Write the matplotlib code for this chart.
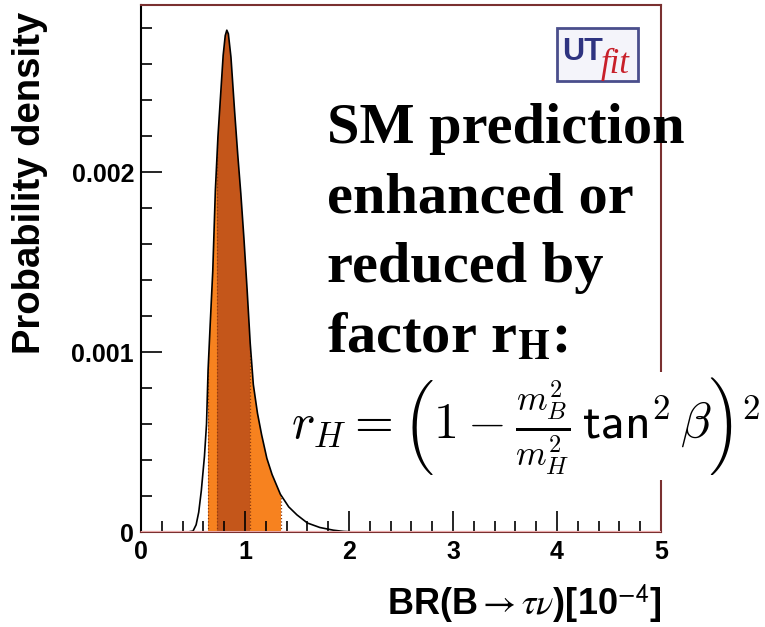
import numpy as np
import matplotlib
matplotlib.use("Agg")
import matplotlib.pyplot as plt
from matplotlib.patches import FancyBboxPatch

# BR(B->tau nu) posterior: x in 1e-4, y = probability density
br_x = [0.45, 0.50, 0.53, 0.555, 0.58, 0.61, 0.63, 0.645, 0.665, 0.69, 0.715,
        0.74, 0.76, 0.79, 0.81, 0.825, 0.84, 0.865, 0.90, 0.93, 0.96, 0.99,
        1.02, 1.05, 1.08, 1.12, 1.16, 1.21, 1.26, 1.34, 1.42, 1.50, 1.60,
        1.72, 1.85, 1.95, 2.05]
br_pdf = [0.0, 0.000005, 0.00004, 0.00011, 0.00023, 0.00042, 0.00060, 0.00090,
          0.00115, 0.00145, 0.00190, 0.00220, 0.00238, 0.00265, 0.00276, 0.00279,
          0.00277, 0.00264, 0.00234, 0.00210, 0.00188, 0.00163, 0.00135, 0.00105,
          0.00082, 0.00066, 0.00054, 0.00041, 0.00032, 0.00021, 0.00014, 0.000095,
          0.00005, 0.000025, 0.00001, 0.000003, 0.0]

# credible intervals (68% dark, 95% light)
band95 = (0.64, 1.345)
band68 = (0.734, 1.048)

xticks = [0, 1, 2, 3, 4, 5]
yticks = [0, 0.001, 0.002]
ytick_labels = ["0", "0.001", "0.002"]

dark = "#C4561A"
light = "#F7821F"
frame = "#7A3030"

fig = plt.figure(figsize=(7.65, 6.27), dpi=100)
ax = fig.add_axes([141 / 765, 1 - 532 / 627, 520 / 765, 527 / 627])

ax.set_xlim(0, 5)
ax.set_ylim(0, 0.00293)

# curve outline used as clip path for the bands
poly = ax.fill_between(br_x, br_pdf, 0, facecolor="none", edgecolor="none")
clip = poly.get_paths()[0]
for (lo, hi), c in [(band95, light), (band68, dark)]:
    span = ax.axvspan(lo, hi, color=c, lw=0, zorder=1)
    span.set_clip_path(clip, ax.transData)
    for v in (lo, hi):
        ln = ax.axvline(v, color="#8B3A10", lw=0.9, ls=":", zorder=2)
        ln.set_clip_path(clip, ax.transData)

ax.plot(br_x, br_pdf, color="black", lw=1.2, zorder=3)
ax.axhline(0, color="#E8A8A8", lw=1.5, zorder=4)

for s in ["top", "right", "bottom"]:
    ax.spines[s].set_color(frame)
    ax.spines[s].set_linewidth(1.5)
ax.spines["left"].set_color("black")
ax.spines["left"].set_linewidth(1.5)

ax.set_xticks(xticks)
ax.set_xticks(np.arange(0, 5.01, 0.2), minor=True)
ax.set_yticks(yticks)
ax.set_yticklabels(ytick_labels)
ax.set_yticks(np.arange(0, 0.00293, 0.0002), minor=True)
ax.tick_params(which="both", direction="in", top=False, right=False, color="black", width=1.2)
ax.tick_params(which="major", length=15)
ax.tick_params(which="minor", length=8)
ax.tick_params(axis="x", pad=6)
ax.tick_params(axis="y", pad=5)
for lab in ax.get_xticklabels() + ax.get_yticklabels():
    lab.set_fontfamily("Liberation Sans")
    lab.set_fontweight("bold")
    lab.set_fontsize(18)

fig.text(30 / 765, 1 - 183 / 627, "Probability density", rotation=90,
         ha="center", va="center", fontsize=27.5, fontweight="bold",
         family="Liberation Sans")
fig.text(661 / 765, 1 - 615 / 627, r"BR(B$\rightarrow\tau\nu$)[10$^{\mathsf{-4}}$]",
         ha="right", va="baseline", fontsize=26, fontweight="bold",
         family="Liberation Sans", math_fontfamily="stix")

# annotation text
lines = ["SM prediction", "enhanced or", "reduced by", r"factor r$_\mathbf{H}$:"]
baselines = [143, 212, 282, 352]
for t, b in zip(lines, baselines):
    fig.text(327 / 765, 1 - b / 627, t, ha="left", va="baseline", fontsize=42,
             fontweight="bold", family="Liberation Serif", math_fontfamily="stix")

fig.text(526 / 765, 1 - 426 / 627,
         r"$r_H = \left(\mathsf{1} - \frac{m_B^{\mathsf{2}}}{m_H^{\mathsf{2}}}\,\mathsf{tan}^{\mathsf{2}}\,\beta\right)^{\mathsf{2}}$",
         ha="center", va="center", fontsize=36, math_fontfamily="cm",
         bbox=dict(facecolor="white", edgecolor="none", pad=2))

# UTfit logo
logo = FancyBboxPatch((557 / 765, 1 - 81 / 627), 81 / 765, 53 / 627,
                      boxstyle="square,pad=0", transform=fig.transFigure,
                      facecolor="#F4F4FA", edgecolor="#4A4E8C", lw=2)
fig.patches.append(logo)
fig.text(562 / 765, 1 - 60 / 627, "UT", color="#2E3380", fontsize=22,
         fontweight="bold", family="Liberation Sans", va="baseline")
fig.text(601 / 765, 1 - 73 / 627, "fit", color="#C8202A", fontsize=25,
         style="italic", family="Liberation Serif", va="baseline")

fig.savefig("out.png", dpi=100)
